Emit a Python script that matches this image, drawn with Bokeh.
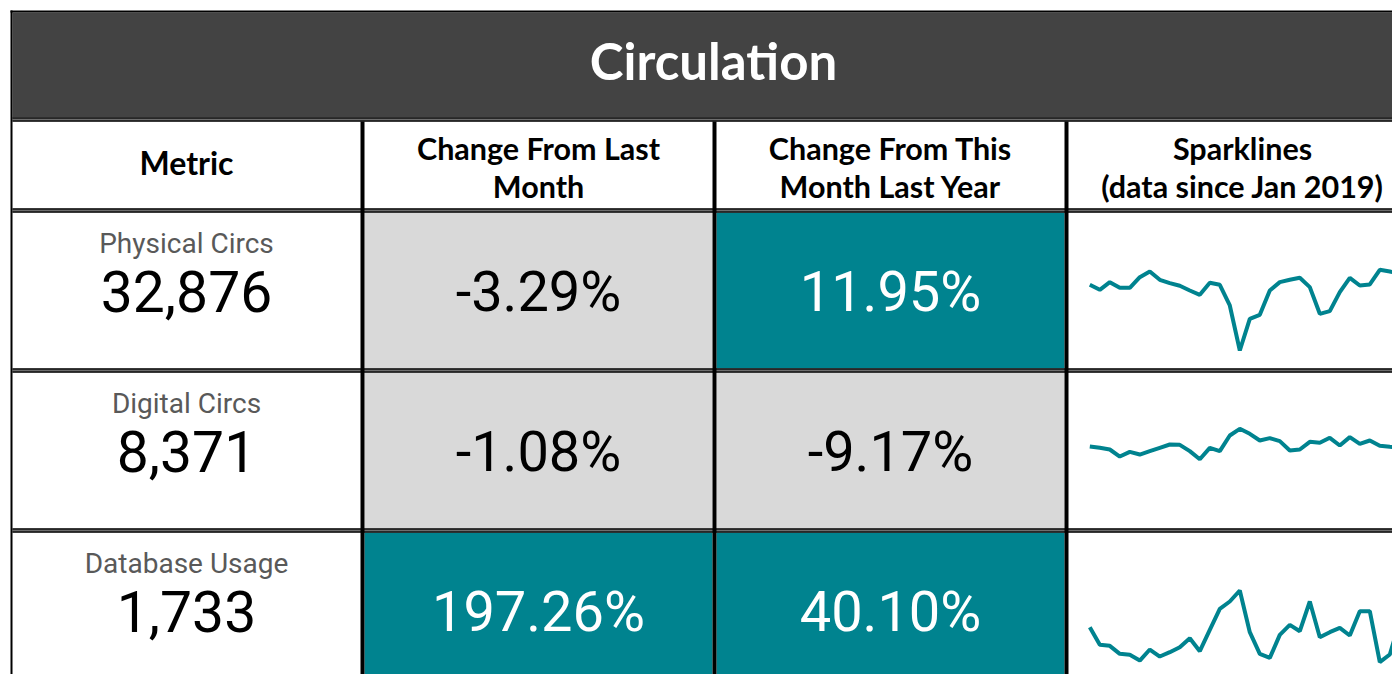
from bokeh.plotting import figure
from bokeh.models import Range1d, ColumnDataSource
from bokeh.core.properties import value
from bokeh.embed import file_html
from bokeh.resources import INLINE

# ---------------- data ----------------
title = "Circulation"
headers = [["Metric"],
           ["Change From Last", "Month"],
           ["Change From This", "Month Last Year"],
           ["Sparklines", "(data since Jan 2019)"]]
metrics = ["Physical Circs", "Digital Circs", "Database Usage"]
current = [32876, 8371, 1733]
mom = [-3.29, -1.08, 197.26]      # change from last month, %
yoy = [11.95, -9.17, 40.10]       # change from this month last year, %

physical = [29670, 28240, 30425, 28810, 28810, 31850, 33465, 31090, 30140, 29380,
            28050, 26815, 30235, 29665, 23775, 10950, 19975, 21115, 28050, 30425,
            31090, 31660, 29000, 21400, 22160, 27575, 31660, 29475, 29760, 33940,
            33465, 32800]
digital = [8396, 8364, 8324, 8156, 8268, 8204, 8284, 8364, 8444, 8436,
           8284, 8092, 8364, 8284, 8660, 8820, 8700, 8540, 8596, 8524,
           8300, 8324, 8508, 8484, 8604, 8420, 8620, 8460, 8540, 8412,
           8388, 8372]
database = [1300, 1035, 1020, 900, 885, 800, 965, 860, 925, 1000,
            1135, 940, 1260, 1575, 1685, 1850, 1225, 900, 840, 1185,
            1335, 1240, 1685, 1150, 1225, 1290, 1175, 1540, 1540, 775,
            890, 1390]
series = [physical, digital, database]

# ---------------- style ----------------
W, H = 1392, 674
TEAL = "#00838F"
GRAY = "#D9D9D9"
DARK = "#434343"
RIGHT = 1420

cols = [(12, 360), (364, 712), (716, 1064), (1068, RIGHT)]
centers = [186, 538, 890, 1242]
row_tops = [212, 372, 532]
row_h = 156
BL = 0.385  # svg text offset factor (baseline correction)


def ty(baseline, size):
    return baseline - BL * size


p = figure(width=W, height=H, x_range=Range1d(0, W), y_range=Range1d(H, 0),
           output_backend="svg", toolbar_location=None, min_border=0)
p.axis.visible = False
p.grid.visible = False
p.outline_line_color = None
p.background_fill_color = "white"
p.border_fill_color = "white"

# title band
p.quad(left=[12], right=[RIGHT], top=[12], bottom=[117], fill_color=DARK, line_color=None)
p.text(x=[713], y=[ty(80, 51)], text=[title], text_font=value("Lato"), text_font_style="bold",
       text_font_size=value("51px"), text_color="white", text_align="center",
       text_baseline="alphabetic")

# cells
for r in range(3):
    top = row_tops[r]
    bot = top + row_h
    fills = ["white",
             TEAL if mom[r] > 0 else GRAY,
             TEAL if yoy[r] > 0 else GRAY,
             "white"]
    for c in range(4):
        p.quad(left=[cols[c][0]], right=[cols[c][1]], top=[top], bottom=[bot],
               fill_color=fills[c], line_color=None)

# horizontal double separators
for ysep in [117, 208, 368, 528]:
    p.quad(left=[12], right=[RIGHT], top=[ysep], bottom=[ysep + 4],
           fill_color="#6e6e6e", line_color=None)
    p.segment(x0=[12, 12], y0=[ysep + 0.5, ysep + 3.5], x1=[RIGHT, RIGHT],
              y1=[ysep + 0.5, ysep + 3.5], line_color="#111111", line_width=1.3)

# outer border
p.segment(x0=[11], y0=[10], x1=[11], y1=[H], line_color="black", line_width=2)
p.segment(x0=[10], y0=[11], x1=[RIGHT], y1=[11], line_color="black", line_width=2)

# vertical column separators
for xv in [362, 714, 1066]:
    p.quad(left=[xv - 2], right=[xv + 2], top=[121], bottom=[H],
           fill_color="black", line_color=None)

# headers
HS = 30.5
for c, lines in enumerate(headers):
    ys = [174] if len(lines) == 1 else [159, 197]
    size = 32 if len(lines) == 1 else HS
    for ln, yy in zip(lines, ys):
        p.text(x=[centers[c]], y=[ty(yy, size)], text=[ln], text_font=value("Lato"),
               text_font_style="bold", text_font_size=value(f"{size}px"),
               text_color="black", text_align="center", text_baseline="alphabetic")

# metric labels, values and changes
for r in range(3):
    base = row_tops[r]
    p.text(x=[186], y=[ty(base + 42, 28)], text=[metrics[r]], text_font=value("Roboto"),
           text_font_size=value("28px"), text_color="#595959", text_align="center",
           text_baseline="alphabetic")
    p.text(x=[186], y=[ty(base + 101, 57)], text=[f"{current[r]:,}"],
           text_font=value("Roboto"), text_font_size=value("57px"), text_color="black",
           text_align="center", text_baseline="alphabetic")
    for c, v in [(1, mom[r]), (2, yoy[r])]:
        p.text(x=[centers[c]], y=[ty(base + 101, 56)], text=[f"{v:.2f}%"],
               text_font=value("Roboto"), text_font_size=value("56px"),
               text_color="white" if v > 0 else "black", text_align="center",
               text_baseline="alphabetic")

# sparklines (each on its own scale)
x0_px, dx_px = 1089.3, 10.0
xs_start = -x0_px / dx_px
p.extra_x_ranges = {"month": Range1d(xs_start, xs_start + W / dx_px)}
bands = [(269.3, 350.0), (428.3, 458.7), (590.0, 661.7)]
yr = {}
for i, (vals, (top_px, bot_px)) in enumerate(zip(series, bands)):
    vmin, vmax = min(vals), max(vals)
    k = (bot_px - top_px) / (vmax - vmin)
    E = vmax + top_px / k
    S = E - H / k
    yr[f"s{i}"] = Range1d(S, E)
p.extra_y_ranges = yr
for i, vals in enumerate(series):
    src = ColumnDataSource(dict(x=list(range(len(vals))), y=vals))
    p.line("x", "y", source=src, x_range_name="month", y_range_name=f"s{i}",
           line_color=TEAL, line_width=4)

open("out.html", "w").write(file_html(p, INLINE))
